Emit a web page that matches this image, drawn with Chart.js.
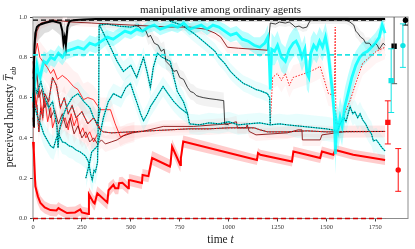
<!DOCTYPE html>
<html>
<head>
<meta charset="utf-8">
<title>manipulative among ordinary agents</title>
<script src="https://cdn.jsdelivr.net/npm/chart.js@4.4.1/dist/chart.umd.min.js"></script>
<style>
	html, body { margin: 0; padding: 0; background: #fff; }
	canvas { display: block; }
</style>
</head>
<body>
<canvas id="honestyChart" width="415" height="249"></canvas>
<script>
// axis ticks
const xTicks = [0, 250, 500, 750, 1000, 1250, 1500, 1750];
const yTicks = [0, 0.2, 0.4, 0.6, 0.8, 1.0];
const X_MAX = 1917;

// group means: [t, value, sd]
const blackMean = [[0,0.46,0.3],[4,0.72,0.25],[8,0.86,0.15],[12,0.92,0.1],[20,0.95,0.08],[30,0.96,0.07],[45,0.965,0.06],[60,0.97,0.05],[80,0.975,0.05],[100,0.98,0.04],[120,0.975,0.05],[140,0.97,0.06],[150,0.93,0.08],[156,0.87,0.08],[162,0.9,0.08],[168,0.86,0.08],[176,0.95,0.06],[185,0.975,0.04],[195,0.982,0.03],[220,0.985,0.025],[260,0.988,0.02],[320,0.99,0.015],[600,0.99,0.015],[1000,0.99,0.015],[1400,0.99,0.015],[1800,0.99,0.015]];

const cyanMean = [[0,0.58,0.1],[6,0.64,0.09],[12,0.7,0.08],[20,0.76,0.07],[28,0.72,0.06],[36,0.7,0.06],[45,0.74,0.05],[55,0.78,0.05],[70,0.77,0.05],[90,0.8,0.04],[110,0.79,0.04],[130,0.82,0.04],[150,0.8,0.04],[170,0.83,0.04],[200,0.84,0.04],[230,0.85,0.04],[260,0.84,0.04],[290,0.87,0.04],[320,0.86,0.04],[350,0.88,0.04],[380,0.9,0.035],[410,0.89,0.035],[440,0.91,0.035],[470,0.93,0.03],[500,0.92,0.03],[530,0.94,0.03],[560,0.93,0.03],[590,0.95,0.03],[620,0.96,0.03],[650,0.94,0.03],[680,0.95,0.03],[710,0.96,0.03],[740,0.95,0.03],[770,0.97,0.03],[800,0.94,0.03],[830,0.95,0.03],[860,0.96,0.03],[890,0.94,0.03],[920,0.96,0.03],[950,0.95,0.03],[980,0.93,0.035],[1010,0.91,0.035],[1040,0.92,0.035],[1070,0.89,0.04],[1100,0.88,0.04],[1130,0.86,0.04],[1160,0.85,0.05],[1185,0.87,0.05],[1200,0.9,0.06],[1208,0.78,0.08],[1213,0.64,0.1],[1220,0.84,0.08],[1235,0.83,0.07],[1250,0.86,0.07],[1270,0.8,0.07],[1290,0.78,0.07],[1310,0.84,0.07],[1330,0.87,0.07],[1345,0.88,0.07],[1360,0.85,0.07],[1375,0.8,0.07],[1390,0.84,0.07],[1400,0.72,0.08],[1410,0.7,0.08],[1420,0.82,0.08],[1435,0.86,0.07],[1450,0.84,0.07],[1465,0.88,0.07],[1480,0.85,0.07],[1495,0.9,0.07],[1510,0.82,0.08],[1520,0.72,0.09],[1530,0.64,0.1],[1540,0.52,0.1],[1546,0.32,0.1],[1552,0.48,0.1],[1560,0.44,0.1],[1570,0.5,0.1],[1580,0.46,0.1],[1595,0.56,0.09],[1610,0.62,0.09],[1630,0.7,0.08],[1650,0.76,0.07],[1670,0.8,0.06],[1690,0.82,0.06],[1710,0.83,0.05],[1730,0.85,0.05],[1750,0.87,0.05],[1770,0.9,0.05],[1785,0.96,0.04],[1800,0.92,0.04]];

const redMean = [[0,0.38,0.1],[4,0.34,0.08],[12,0.16,0.05],[25,0.11,0.04],[38,0.077,0.035],[60,0.055,0.03],[89,0.042,0.03],[120,0.04,0.03],[130,0.052,0.03],[140,0.045,0.03],[174,0.027,0.03],[215,0.03,0.03],[242,0.045,0.03],[250,0.03,0.03],[283,0.022,0.03],[286,0.12,0.035],[309,0.08,0.035],[315,0.075,0.035],[329,0.125,0.035],[380,0.08,0.035],[386,0.14,0.035],[411,0.167,0.03],[420,0.15,0.03],[436,0.15,0.03],[440,0.175,0.03],[457,0.177,0.03],[487,0.15,0.03],[490,0.19,0.03],[498,0.19,0.03],[557,0.176,0.03],[560,0.216,0.03],[590,0.21,0.03],[609,0.3,0.035],[700,0.258,0.035],[703,0.27,0.035],[711,0.357,0.035],[753,0.266,0.035],[756,0.3,0.035],[768,0.382,0.03],[1145,0.29,0.025],[1150,0.325,0.025],[1162,0.316,0.025],[1324,0.283,0.025],[1331,0.332,0.025],[1468,0.3,0.025],[1477,0.332,0.025],[1535,0.316,0.025],[1545,0.34,0.025],[1637,0.316,0.025],[1800,0.29,0.025]];

// long-run levels (dashed)
const levelSpan = [0, 1800];
const blackLevel = 0.984;
const cyanLevel = 0.812;
const redLevel = 0.0;

// single-agent trajectories: [t, value, sd]
const trajTopRed = [[0,0.72,0.1],[8,0.85,0.08],[20,0.93,0.05],[40,0.97,0.03],[100,0.985,0.02],[200,0.975,0.02],[300,0.97,0.02],[400,0.965,0.02],[500,0.96,0.02],[600,0.955,0.02],[700,0.95,0.02],[800,0.95,0.02],[880,0.94,0.03],[930,0.92,0.03],[960,0.9,0.03],[994,0.85,0.03],[1050,0.845,0.03],[1130,0.84,0.03],[1200,0.835,0.03]];
const trajTopBlack = [[1200,0.835,0.03],[1213,0.97,0.02],[1240,0.965,0.02],[1260,0.975,0.02],[1290,0.97,0.02],[1310,0.975,0.02],[1330,0.96,0.02],[1340,0.95,0.02],[1360,0.955,0.02],[1380,0.945,0.02],[1400,0.95,0.02],[1410,0.97,0.02],[1420,0.985,0.02],[1600,0.985,0.02],[1620,0.975,0.02],[1640,0.96,0.02],[1650,0.93,0.03],[1660,0.92,0.03],[1675,0.9,0.03],[1690,0.89,0.03],[1700,0.87,0.03],[1720,0.87,0.03],[1735,0.85,0.03],[1750,0.87,0.03],[1760,0.86,0.03],[1770,0.84,0.03],[1780,0.855,0.03],[1790,0.87,0.03],[1800,0.86,0.03]];
const trajDive = [[0,0.62,0.06],[10,0.55,0.06],[25,0.5,0.06],[38,0.47,0.06],[55,0.42,0.06],[72,0.39,0.06],[90,0.36,0.06],[105,0.35,0.06],[120,0.4,0.06],[130,0.42,0.06],[150,0.38,0.06],[166,0.375,0.06],[185,0.36,0.06],[200,0.356,0.06],[220,0.34,0.06],[242,0.33,0.06],[268,0.31,0.06],[284,0.28,0.06],[295,0.22,0.06],[303,0.19,0.06],[312,0.24,0.06],[319,0.23,0.06],[330,0.28,0.06],[336,0.6,0.05],[338,0.96,0.03],[380,0.965,0.03],[440,0.955,0.03],[500,0.95,0.03],[540,0.96,0.03]];
const trajDiag = [[520,0.96,0.03],[545,0.95,0.03],[560,0.93,0.03],[575,0.935,0.03],[590,0.9,0.04],[600,0.91,0.04],[620,0.87,0.04],[640,0.86,0.04],[655,0.83,0.04],[670,0.84,0.04],[680,0.78,0.04],[700,0.76,0.04],[720,0.73,0.04],[735,0.735,0.04],[750,0.7,0.04],[770,0.69,0.04],[790,0.65,0.04],[805,0.63,0.04],[820,0.625,0.04],[835,0.61,0.04],[850,0.605,0.04],[870,0.6,0.04],[900,0.595,0.04],[940,0.59,0.04],[975,0.585,0.04],[980,0.47,0.03],[1000,0.465,0.03]];
const trajCyanB = [[340,0.96,0.05],[370,0.9,0.05],[396,0.85,0.05],[430,0.78,0.05],[462,0.73,0.05],[500,0.76,0.05],[530,0.7,0.05],[565,0.8,0.05],[585,0.72,0.05],[600,0.65,0.05],[615,0.75,0.05],[636,0.82,0.05],[660,0.8,0.05],[702,0.78,0.05],[720,0.7,0.05],[738,0.63,0.05],[769,0.58,0.05],[790,0.52,0.05],[800,0.47,0.05],[850,0.465,0.05],[900,0.475,0.05],[950,0.47,0.05],[1000,0.48,0.05],[1050,0.465,0.05],[1100,0.47,0.05],[1160,0.475,0.05],[1213,0.465,0.05],[1260,0.47,0.05],[1300,0.465,0.05],[1350,0.46,0.06],[1400,0.455,0.06],[1450,0.45,0.06],[1500,0.445,0.06],[1557,0.435,0.06],[1570,0.47,0.06],[1590,0.5,0.06],[1600,0.48,0.06],[1621,0.555,0.06],[1635,0.52,0.06],[1645,0.53,0.06],[1660,0.5,0.06],[1672,0.52,0.06],[1685,0.49,0.06],[1700,0.47,0.06],[1715,0.44,0.06],[1730,0.42,0.06],[1740,0.385,0.06],[1755,0.39,0.06],[1770,0.37,0.06],[1785,0.35,0.06],[1800,0.335,0.06]];
const trajCyanC = [[270,0.2,0.05],[290,0.28,0.05],[300,0.33,0.05],[330,0.36,0.05],[360,0.5,0.05],[385,0.58,0.05],[411,0.62,0.05],[450,0.6,0.05],[475,0.65,0.05],[498,0.67,0.05],[515,0.62,0.05],[533,0.57,0.05],[550,0.52,0.05],[565,0.485,0.05],[585,0.52,0.05],[600,0.555,0.05],[630,0.6,0.05],[665,0.655,0.05],[690,0.62,0.05],[720,0.58,0.05],[750,0.55,0.05],[790,0.52,0.05]];
const trajCyanD = [[0,0.7,0.06],[20,0.62,0.06],[40,0.68,0.06],[60,0.6,0.06],[80,0.55,0.06],[100,0.58,0.06],[122,0.46,0.06],[128,0.35,0.06],[135,0.44,0.06],[150,0.5,0.06],[170,0.55,0.06],[200,0.6,0.06],[230,0.62,0.06],[260,0.58,0.06],[290,0.55,0.06],[310,0.5,0.06],[330,0.47,0.06],[345,0.55,0.06]];
const trajCyanRight = [[700,0.98,0.03],[760,0.96,0.03],[820,0.92,0.04],[870,0.88,0.04],[906,0.85,0.04],[930,0.83,0.04],[950,0.8,0.04],[980,0.77,0.04],[1009,0.73,0.04],[1040,0.7,0.04],[1076,0.67,0.04],[1100,0.66,0.04],[1120,0.65,0.04],[1140,0.64,0.04],[1160,0.635,0.04],[1198,0.62,0.04],[1210,0.6,0.04],[1213,0.47,0.04]];
const trajRedRight = [[1213,0.47,0.06],[1225,0.7,0.06],[1249,0.72,0.06],[1270,0.685,0.06],[1290,0.72,0.06],[1310,0.66,0.06],[1330,0.7,0.06],[1360,0.71,0.06],[1390,0.72,0.06],[1417,0.73,0.06],[1440,0.74,0.06],[1468,0.755,0.06],[1490,0.685,0.06],[1510,0.62,0.06],[1540,0.61,0.06],[1545,0.95,0.06],[1548,0.47,0.06],[1570,0.47,0.06],[1621,0.585,0.06],[1655,0.685,0.06],[1685,0.77,0.06],[1720,0.8,0.06],[1755,0.83,0.06],[1800,0.85,0.06]];
const trajRedFlat = [[330,0.47,0.03],[345,0.44,0.03],[360,0.43,0.03],[400,0.425,0.03],[500,0.43,0.03],[600,0.435,0.03],[700,0.44,0.03],[800,0.445,0.03],[900,0.445,0.03],[1000,0.45,0.03],[1130,0.45,0.03],[1160,0.44,0.03],[1200,0.43,0.03],[1300,0.43,0.03],[1400,0.435,0.03],[1500,0.43,0.03],[1800,0.432,0.03]];
const trajDarkRed = [[0,0.78,0.05],[10,0.66,0.05],[20,0.72,0.05],[30,0.6,0.05],[45,0.64,0.05],[60,0.55,0.05],[75,0.58,0.05],[90,0.5,0.05],[110,0.54,0.05],[130,0.47,0.05],[150,0.52,0.05],[170,0.45,0.05],[190,0.5,0.05],[210,0.42,0.05],[230,0.46,0.05],[250,0.4,0.05],[270,0.43,0.05],[290,0.38,0.05],[310,0.4,0.05],[330,0.37,0.04],[350,0.39,0.04],[370,0.37,0.04],[400,0.38,0.04],[430,0.39,0.04],[462,0.41,0.04],[508,0.425,0.04],[560,0.432,0.03],[666,0.457,0.03],[820,0.457,0.03],[1000,0.47,0.03],[1040,0.48,0.03],[1045,0.45,0.03],[1090,0.45,0.03],[1095,0.465,0.03],[1105,0.432,0.03],[1140,0.415,0.03],[1300,0.425,0.03],[1355,0.44,0.03],[1375,0.44,0.03],[1377,0.39,0.03],[1468,0.39,0.03],[1477,0.415,0.03],[1600,0.432,0.03],[1800,0.432,0.03]];
const trajRedA = [[0,0.55,0.08],[8,0.8,0.08],[22,0.87,0.08],[35,0.8,0.08],[50,0.78,0.08],[73,0.75,0.08],[90,0.72,0.08],[105,0.74,0.08],[125,0.69,0.08],[150,0.71,0.08],[176,0.69,0.08],[207,0.655,0.08],[230,0.64,0.08],[258,0.59,0.08],[280,0.6,0.08],[309,0.59,0.07],[330,0.56,0.07],[344,0.54,0.06],[396,0.54,0.06],[420,0.47,0.05],[447,0.405,0.05],[480,0.42,0.05],[520,0.43,0.05]];
const trajRedB = [[0,0.6,0.06],[6,0.72,0.06],[15,0.55,0.06],[30,0.66,0.06],[45,0.52,0.06],[60,0.6,0.06],[75,0.48,0.06],[90,0.55,0.06],[100,0.45,0.06],[115,0.5,0.06],[130,0.42,0.06],[150,0.48,0.06],[165,0.5,0.06],[180,0.44,0.06],[195,0.52,0.06],[210,0.46,0.06],[225,0.5,0.06],[240,0.42,0.06],[255,0.45,0.06],[270,0.4,0.06],[290,0.43,0.06],[310,0.38,0.06],[330,0.42,0.06]];
const trajRedC = [[0,0.5,0.06],[5,0.45,0.06],[10,0.6,0.06],[20,0.56,0.06],[30,0.43,0.06],[40,0.55,0.06],[50,0.5,0.06],[60,0.62,0.06],[80,0.58,0.06],[100,0.7,0.06],[120,0.66,0.06],[140,0.55,0.06],[160,0.6,0.06],[180,0.52,0.06],[200,0.56,0.06],[220,0.5,0.06],[250,0.53,0.06],[280,0.47,0.06],[310,0.5,0.06],[330,0.46,0.06],[345,0.44,0.06]];

// final estimates shown at the right edge
const errT = [1814, 1831, 1846, 1867, 1891, 1904];
const errMean = [0.477, 0.684, 0.855, 0.241, 0.858, 0.984];
const errHalf = [0.107, 0.158, 0.186, 0.106, 0.108, 0.024];

const SERIF = '"Liberation Serif", "DejaVu Serif", serif';

const pts = (rows) => rows.map((r) => ({ x: r[0], y: r[1] }));
const lowPts = (rows) => rows.map((r) => ({ x: r[0], y: r[1] - r[2] }));
const highPts = (rows) => rows.map((r) => ({ x: r[0], y: r[1] + r[2] }));

const datasets = [];
const NONE = "rgba(0,0,0,0)";

const addLine = (data, color, width, order, dash, clip) => {
	datasets.push({
		data,
		borderColor: color,
		borderWidth: width,
		borderDash: dash || [],
		pointRadius: 0,
		fill: false,
		tension: 0,
		order,
		clip: clip === undefined ? 1 : clip,
	});
};

const addBand = (rows, color, order) => {
	datasets.push({ data: lowPts(rows), borderColor: NONE, borderWidth: 0, pointRadius: 0, fill: false, order });
	datasets.push({ data: highPts(rows), borderColor: NONE, borderWidth: 0, pointRadius: 0, fill: "-1", backgroundColor: color, order });
};

// thin trajectories with their style
const trajStyle = [
	[trajTopRed, "dr"],
	[trajTopBlack, "k"],
	[trajDive, "kc"],
	[trajDiag, "k"],
	[trajCyanB, "kc"],
	[trajCyanC, "kc"],
	[trajCyanD, "kc"],
	[trajCyanRight, "kc"],
	[trajRedRight, "rd"],
	[trajRedFlat, "rk"],
	[trajDarkRed, "dr"],
	[trajRedA, "r"],
	[trajRedB, "r"],
	[trajRedC, "rk"],
];

const bandColor = { k: "rgba(0,0,0,0.05)", dr: "rgba(255,0,0,0.05)", r: "rgba(255,0,0,0.05)", rk: "rgba(255,0,0,0.05)", rd: "rgba(255,0,0,0.04)", kc: "rgba(0,235,235,0.09)" };

trajStyle.forEach(([rows, style]) => {
	addBand(rows, bandColor[style], 9);
	const p = pts(rows);
	if (style === "k") addLine(p, "#111", 0.8, 7);
	if (style === "dr") addLine(p, "#8a1010", 0.9, 7);
	if (style === "r") addLine(p, "#ff1a1a", 0.9, 7);
	if (style === "rd") addLine(p, "#ff2020", 1.0, 7, [1.5, 1.5]);
	if (style === "kc") {
		addLine(p, "rgba(0,215,215,0.95)", 1.3, 7);
		addLine(p, "#000", 0.8, 6, [1, 1.6]);
	}
	if (style === "rk") {
		addLine(p, "#222", 0.9, 7);
		addLine(p, "#ff2020", 1.1, 6, [1.5, 1.5]);
	}
});

// group mean bands and lines
addBand(blackMean, "rgba(0,0,0,0.13)", 8);
addBand(cyanMean, "rgba(0,255,255,0.28)", 8);
addBand(redMean, "rgba(255,0,0,0.2)", 8);
addLine(pts(redMean), "#ff0000", 2.0, 4);
addLine(pts(cyanMean), "rgba(0,255,255,0.85)", 2.8, 3);
addLine(pts(blackMean), "#000", 2.0, 2);

// dashed long-run levels
const levelLine = (v) => levelSpan.map((t) => ({ x: t, y: v }));
addLine(levelLine(cyanLevel), "#22e5e5", 1.6, 1, [5, 3]);
addLine(levelLine(blackLevel), "#000", 1.3, 1, [5, 3]);
addLine(levelLine(redLevel), "#cc0000", 1.6, 1, [5, 3], 4);

// error bars with caps and markers
const errColor = ["#ff1010", "#10e5e5", "#555", "#ff1010", "#10e5e5", "#000"];
const errMarker = ["rect", "rect", "rect", "circle", "circle", "circle"];
errT.forEach((t, i) => {
	const c = errColor[i];
	datasets.push({
		data: [{ x: t, y: errMean[i] - errHalf[i] }, { x: t, y: errMean[i] + errHalf[i] }],
		showLine: true,
		borderColor: c,
		borderWidth: 1,
		pointStyle: "line",
		pointRadius: 3,
		pointBorderColor: c,
		pointBorderWidth: 1,
		fill: false,
		order: 0,
		clip: 0,
	});
	datasets.push({
		data: [{ x: t, y: errMean[i] }],
		showLine: false,
		pointStyle: errMarker[i],
		pointRadius: errMarker[i] === "rect" ? 3.8 : 2.7,
		pointBackgroundColor: i === 2 ? "#000" : c,
		pointBorderColor: i === 2 ? "#000" : c,
		pointBorderWidth: 0,
		order: 0,
		clip: 4,
	});
});

const framePlugin = {
	id: "frame",
	beforeDatasetsDraw(chart) {
		const { ctx, chartArea: a } = chart;
		ctx.save();
		ctx.strokeStyle = "#8c8c8c";
		ctx.lineWidth = 1;
		ctx.strokeRect(a.left, a.top, a.right - a.left, a.bottom - a.top);
		ctx.restore();
	},
};

const labelsPlugin = {
	id: "labels",
	afterDraw(chart) {
		const { ctx, chartArea: a } = chart;
		const cx = (a.left + a.right) / 2;
		ctx.save();
		ctx.fillStyle = "#222";
		ctx.textBaseline = "alphabetic";

		// title
		ctx.font = `11px ${SERIF}`;
		ctx.textAlign = "center";
		ctx.fillText("manipulative among ordinary agents", cx, 13);

		// x label: "time t"
		ctx.font = `11.5px ${SERIF}`;
		const w1 = ctx.measureText("time ").width;
		ctx.font = `italic 11.5px ${SERIF}`;
		const w2 = ctx.measureText("t").width;
		let x0 = cx - (w1 + w2) / 2;
		ctx.textAlign = "left";
		ctx.font = `11.5px ${SERIF}`;
		ctx.fillText("time ", x0, 243);
		ctx.font = `italic 11.5px ${SERIF}`;
		ctx.fillText("t", x0 + w1, 243);

		// y label: "perceived honesty T̄_ab"
		ctx.translate(13, 117);
		ctx.rotate(-Math.PI / 2);
		ctx.font = `11.5px ${SERIF}`;
		const main = "perceived honesty ";
		const mw = ctx.measureText(main).width;
		ctx.font = `italic 11.5px ${SERIF}`;
		const tw = ctx.measureText("T").width;
		ctx.font = `italic 8px ${SERIF}`;
		const sw = ctx.measureText("ab").width;
		const total = mw + tw + sw;
		let x = -total / 2;
		ctx.font = `11.5px ${SERIF}`;
		ctx.fillText(main, x, 0);
		x += mw;
		ctx.font = `italic 11.5px ${SERIF}`;
		ctx.fillText("T", x, 0);
		ctx.strokeStyle = "#222";
		ctx.lineWidth = 0.7;
		ctx.beginPath();
		ctx.moveTo(x + 1, -9.6);
		ctx.lineTo(x + tw, -9.6);
		ctx.stroke();
		x += tw;
		ctx.font = `italic 8px ${SERIF}`;
		ctx.fillText("ab", x, 2.5);
		ctx.restore();
	},
};

new Chart(document.getElementById("honestyChart"), {
	type: "line",
	data: { datasets },
	options: {
		responsive: false,
		animation: false,
		events: [],
		layout: { padding: { top: 17, right: 7, left: 0, bottom: 0 } },
		plugins: { legend: { display: false }, tooltip: { enabled: false } },
		scales: {
			x: {
				type: "linear",
				min: 0,
				max: X_MAX,
				afterBuildTicks: (s) => { s.ticks = xTicks.map((v) => ({ value: v })); },
				afterFit: (s) => { s.height = 30.5; },
				grid: { drawOnChartArea: false, tickLength: 3, color: "#444" },
				border: { display: false },
				ticks: { font: { family: SERIF, size: 6.5 }, color: "#333", padding: 2, maxRotation: 0, autoSkip: false, callback: (v) => String(v) },
			},
			y: {
				min: 0,
				max: 1,
				afterBuildTicks: (s) => { s.ticks = yTicks.map((v) => ({ value: v })); },
				afterFit: (s) => { s.width = 33; },
				grid: { drawOnChartArea: false, tickLength: 3, color: "#444" },
				border: { display: false },
				ticks: { font: { family: SERIF, size: 6.5 }, color: "#333", padding: 3, callback: (v) => Number(v).toFixed(1) },
			},
		},
	},
	plugins: [framePlugin, labelsPlugin],
});
</script>
</body>
</html>
